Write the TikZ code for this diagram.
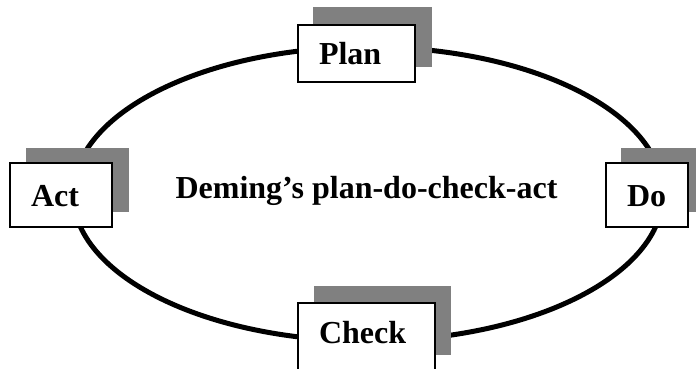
\documentclass[tikz,border=0pt]{standalone}
\usepackage{fontspec}
\setmainfont{Liberation Serif}
\definecolor{shadegray}{RGB}{128,128,128}
\begin{document}
\begin{tikzpicture}[x=1pt,y=-1pt,
  bigfont/.style={font=\fontsize{32}{36}\selectfont\bfseries},
  shadowbox/.style={fill=shadegray, draw=none, inner sep=0pt},
  stepbox/.style={bigfont, draw=black, fill=white, line width=2pt,
    inner xsep=21pt, inner ysep=0pt, align=left,
    text height=22pt, text depth=0pt},
  cycleline/.style={line width=5pt}]
\useasboundingbox (0,0) rectangle (696,369);
\clip (0,0) rectangle (696,369);
% cycle
\draw[cycleline] (368,194) ellipse [x radius=295pt, y radius=147pt];
% title
\node[bigfont, anchor=base, inner sep=0pt] (title) at (366.5,198) {Deming’s plan-do-check-act};
% shadows
\node[shadowbox, minimum width=119pt, minimum height=60pt] (planS) at (372.5,37) {};
\node[shadowbox, minimum width=103pt, minimum height=64pt] (actS) at (77.5,180) {};
\node[shadowbox, minimum width=82pt, minimum height=64pt] (doS) at (662,180) {};
\node[shadowbox, minimum width=137pt, minimum height=69pt] (checkS) at (382.5,320.5) {};
% boxes
\node[stepbox, text width=75pt, minimum height=57pt] (plan) at (356.5,53.5) {Plan};
\node[stepbox, text width=60pt, minimum height=64pt] (act) at (61,195) {Act};
\node[stepbox, text width=40pt, minimum height=64pt] (do) at (647,195) {Do};
\node[stepbox, text width=95pt, minimum height=69pt, text depth=11pt] (check) at (366.5,337.5) {Check};
\end{tikzpicture}
\end{document}
